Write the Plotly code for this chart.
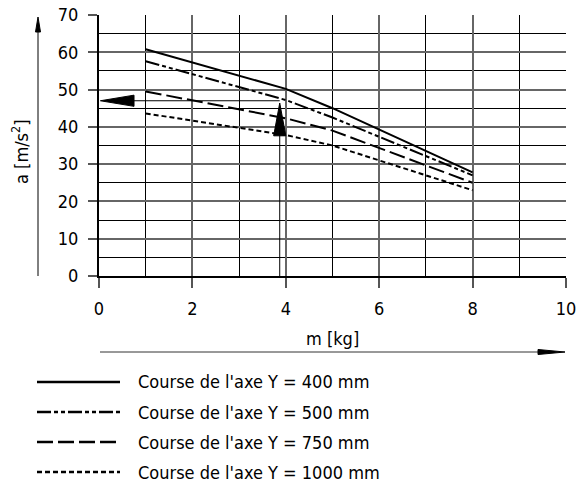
import plotly.graph_objects as go

# ---- data ----
mass_kg = [1, 4, 5, 8]
acc_400 = [60.8, 50.2, 45.0, 27.8]
acc_500 = [57.6, 47.2, 42.5, 27.0]
acc_750 = [49.5, 42.3, 39.0, 25.0]
acc_1000 = [43.6, 37.8, 35.0, 23.0]

series_names = ["Course de l'axe Y = 400 mm", "Course de l'axe Y = 500 mm",
                "Course de l'axe Y = 750 mm", "Course de l'axe Y = 1000 mm"]
series_values = [acc_400, acc_500, acc_750, acc_1000]
dashes = ["solid", "14px,3px,4px,3px,4px,3px", "16px,5px", "5px,3px"]

x_ticks = [0, 2, 4, 6, 8, 10]
y_ticks = [0, 10, 20, 30, 40, 50, 60, 70]

# reading example (arrows)
read_m = 3.87
read_a = 47.0

FONT = "DejaVu Sans Condensed, DejaVu Sans, sans-serif"
fig = go.Figure()
for name, vals, d in zip(series_names, series_values, dashes):
    fig.add_trace(go.Scatter(x=mass_kg, y=vals, mode="lines", name=name,
                             line=dict(color="black", width=2, dash=d),
                             showlegend=False))

W, H = 577, 482
L, R, T, B = 99, 11, 15, 206
pw, ph = W - L - R, H - T - B

def px2paper(px, py):
    return (px - L) / pw, (H - B - py) / ph

fig.update_layout(
    width=W, height=H, margin=dict(l=L, r=R, t=T, b=B, autoexpand=False),
    paper_bgcolor="white", plot_bgcolor="white",
    font=dict(family=FONT, size=18, color="black"),
    xaxis=dict(range=[0, 10], tickvals=x_ticks, ticks="outside", ticklen=10,
               tickcolor="#555", tickwidth=1.5, automargin=False,
               ticklabelstandoff=5,
               showgrid=True, gridcolor="#666", gridwidth=1.5,
               minor=dict(dtick=1, showgrid=True, gridcolor="black", gridwidth=1),
               showline=True, linecolor="black", linewidth=2,
               zeroline=False),
    yaxis=dict(range=[0, 70], tickvals=y_ticks, ticks="outside", ticklen=9,
               tickcolor="#555", tickwidth=1.5, automargin=False,
               ticklabelstandoff=6,
               showgrid=True, gridcolor="#666", gridwidth=1.5,
               minor=dict(dtick=5, showgrid=True, gridcolor="black", gridwidth=1),
               showline=True, linecolor="black", linewidth=2,
               zeroline=False),
)

# axis titles
tx, ty = px2paper(332, 338)
fig.add_annotation(x=tx, y=ty, xref="paper", yref="paper", text="m [kg]",
                   showarrow=False, xanchor="center", yanchor="middle",
                   font=dict(size=18))
tx, ty = px2paper(20, 152)
fig.add_annotation(x=tx, y=ty, xref="paper", yref="paper", text="a [m/s<sup>2</sup>]",
                   showarrow=False, xanchor="center", yanchor="middle",
                   textangle=-90, font=dict(size=18))

# reading guide lines and arrowheads (data coords)
fig.add_shape(type="line", x0=read_m, y0=0, x1=read_m, y1=read_a - 9,
              line=dict(color="black", width=1))
fig.add_shape(type="path",
              path=f"M {read_m-0.13},{read_a-9.4} L {read_m+0.13},{read_a-9.4} L {read_m},{read_a-0.6} Z",
              fillcolor="black", line=dict(color="black", width=1))
fig.add_shape(type="line", x0=0.75, y0=read_a, x1=read_m, y1=read_a,
              line=dict(color="black", width=1))
fig.add_shape(type="path",
              path=f"M 0.03,{read_a} L 0.75,{read_a+1.5} L 0.75,{read_a-1.5} Z",
              fillcolor="black", line=dict(color="black", width=1))

# axis direction arrows (outside the plot), as paper-space shapes
x0, y0 = px2paper(38, 276)
x1, y1 = px2paper(38, 30)
fig.add_shape(type="line", xref="paper", yref="paper", x0=x0, y0=y0, x1=x1, y1=y1,
              line=dict(color="black", width=1))
xa, ya = px2paper(35.5, 32)
xb, yb = px2paper(40.5, 32)
xt, yt = px2paper(38, 17)
fig.add_shape(type="path", xref="paper", yref="paper",
              path=f"M {xa},{ya} L {xb},{yb} L {xt},{yt} Z",
              fillcolor="black", line=dict(color="black", width=1))

x0, y0 = px2paper(100, 352)
x1, y1 = px2paper(545, 352)
fig.add_shape(type="line", xref="paper", yref="paper", x0=x0, y0=y0, x1=x1, y1=y1,
              line=dict(color="#333", width=1))
xa, ya = px2paper(538, 349.5)
xb, yb = px2paper(538, 354.5)
xt, yt = px2paper(565, 352)
fig.add_shape(type="path", xref="paper", yref="paper",
              path=f"M {xa},{ya} L {xb},{yb} L {xt},{yt} Z",
              fillcolor="black", line=dict(color="black", width=1))

# custom legend
rows = [382, 412, 442, 472]
for name, d, py in zip(series_names, dashes, rows):
    x0, y0 = px2paper(37, py)
    x1, _ = px2paper(120, py)
    fig.add_shape(type="line", xref="paper", yref="paper", x0=x0, x1=x1, y0=y0, y1=y0,
                  line=dict(color="black", width=2.5, dash=d))
    tx, _ = px2paper(136, py)
    fig.add_annotation(x=tx, y=y0, xref="paper", yref="paper", text=name,
                       showarrow=False, xanchor="left", yanchor="middle",
                       font=dict(size=18))

fig.write_html("out.html", config={"displayModeBar": False},
               post_script="document.body.style.margin='0';document.body.style.padding='0';")
